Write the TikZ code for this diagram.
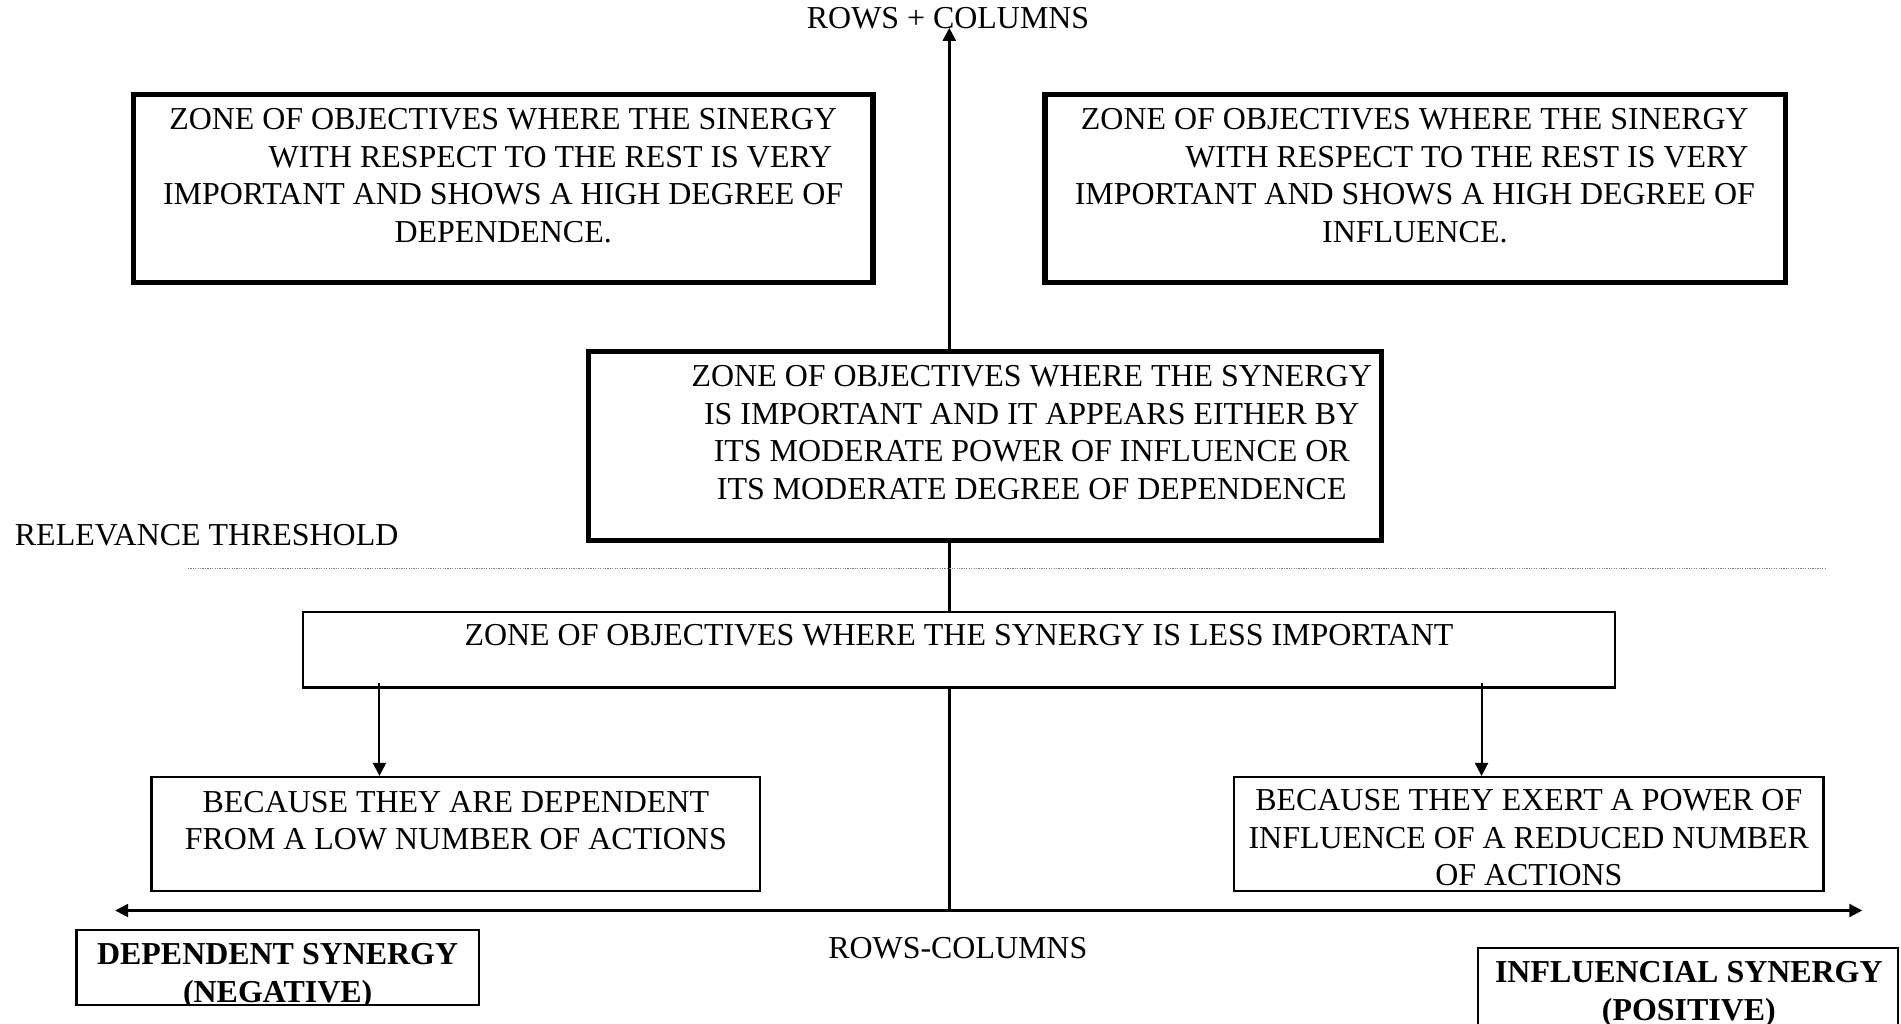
\documentclass[tikz,border=0pt]{standalone}
\usepackage{fontspec}
\setmainfont{Liberation Serif}
\usetikzlibrary{arrows.meta}

\begin{document}
\begin{tikzpicture}[x=0.6pt,y=-0.6pt,
	>={Triangle[length=6.4pt,width=6.4pt]},
	thickzone/.style={draw=black,line width=2.6pt,fill=white,inner sep=0pt},
	thinzone/.style={draw=black,line width=1.2pt,fill=white,inner sep=0pt},
	txt/.style={inner sep=0pt,align=center,anchor=north,font=\fontsize{15.8}{18.6}\selectfont},
	boldtxt/.style={txt,font=\fontsize{15.8}{18.6}\selectfont\bfseries},
	axisline/.style={line width=1.2pt}]
	\useasboundingbox (0,0) rectangle (1568,844);
	
	%axes
	\coordinate (ytop) at (783,23);
	\coordinate (orig) at (783,751);
	\coordinate (xleft) at (95,751);
	\coordinate (xright) at (1536,751);
	\draw[axisline,->] (orig) -- (ytop);
	\draw[axisline,<->] (xleft) -- (xright);
	\node[txt] (ylabel) at (782,5.6) {ROWS + COLUMNS};
	\node[txt] (xlabel) at (790,773) {ROWS-COLUMNS};
	
	%threshold
	\node[txt,anchor=north west] (thr) at (12,432) {RELEVANCE THRESHOLD};
	\draw[gray,line width=0.5pt,dash pattern=on 0.6pt off 0.6pt] (155,469) -- (1505,469);
	
	%upper zones
	\node[thickzone,minimum width=366pt,minimum height=93pt] (depzone) at (415,155.5) {};
	\node[txt] (deptext) at (415,89) {ZONE OF OBJECTIVES WHERE THE SINERGY\\
		\hspace*{46.8pt}WITH RESPECT TO THE REST IS VERY\\
		IMPORTANT AND SHOWS A HIGH DEGREE OF\\
		DEPENDENCE.};
	\node[thickzone,minimum width=366.6pt,minimum height=93pt] (infzone) at (1167.5,155.5) {};
	\node[txt] (inftext) at (1167,89) {ZONE OF OBJECTIVES WHERE THE SINERGY\\
		\hspace*{51.6pt}WITH RESPECT TO THE REST IS VERY\\
		IMPORTANT AND SHOWS A HIGH DEGREE OF\\
		INFLUENCE.};
	\node[thickzone,minimum width=392.4pt,minimum height=93.6pt] (midzone) at (812.5,368) {};
	\node[txt] (midtext) at (851,301) {ZONE OF OBJECTIVES WHERE THE SYNERGY\\
		IS IMPORTANT AND IT APPEARS EITHER BY\\
		ITS MODERATE POWER OF INFLUENCE OR\\
		ITS MODERATE DEGREE OF DEPENDENCE};
	
	%lower zone
	\node[thinzone,minimum width=649.2pt,minimum height=37.2pt] (lowzone) at (791,536) {};
	\node[txt] (lowtext) at (791,515) {ZONE OF OBJECTIVES WHERE THE SYNERGY IS LESS IMPORTANT};
	\node[thinzone,minimum width=301.2pt,minimum height=56.4pt] (depnote) at (376,688) {};
	\node[txt] (depnotetext) at (376,652) {BECAUSE THEY ARE DEPENDENT\\FROM A LOW NUMBER OF ACTIONS};
	\node[thinzone,minimum width=291.6pt,minimum height=56.4pt] (infnote) at (1261,688) {};
	\node[txt] (infnotetext) at (1261,651) {BECAUSE THEY EXERT A POWER OF\\INFLUENCE OF A REDUCED NUMBER\\OF ACTIONS};
	
	\coordinate (splitL) at (313,563);
	\coordinate (splitR) at (1222,563);
	\draw[line width=1pt,->] (splitL) -- (splitL |- depnote.north);
	\draw[line width=1pt,->] (splitR) -- (splitR |- infnote.north);
	
	%synergy boxes
	\begin{scope}
		\clip (63,767) rectangle (395,829);
		\node[boldtxt] (negtext) at (229,778) {DEPENDENT SYNERGY\\(NEGATIVE)};
	\end{scope}
	\node[thinzone,fill=none,minimum width=199.2pt,minimum height=37.2pt] (negbox) at (229,798) {};
	\node[thinzone,minimum width=207.9pt,minimum height=52.8pt] (posbox) at (1392.25,826) {};
	\node[boldtxt] (postext) at (1393,793) {INFLUENCIAL SYNERGY\\(POSITIVE)};
\end{tikzpicture}
\end{document}
